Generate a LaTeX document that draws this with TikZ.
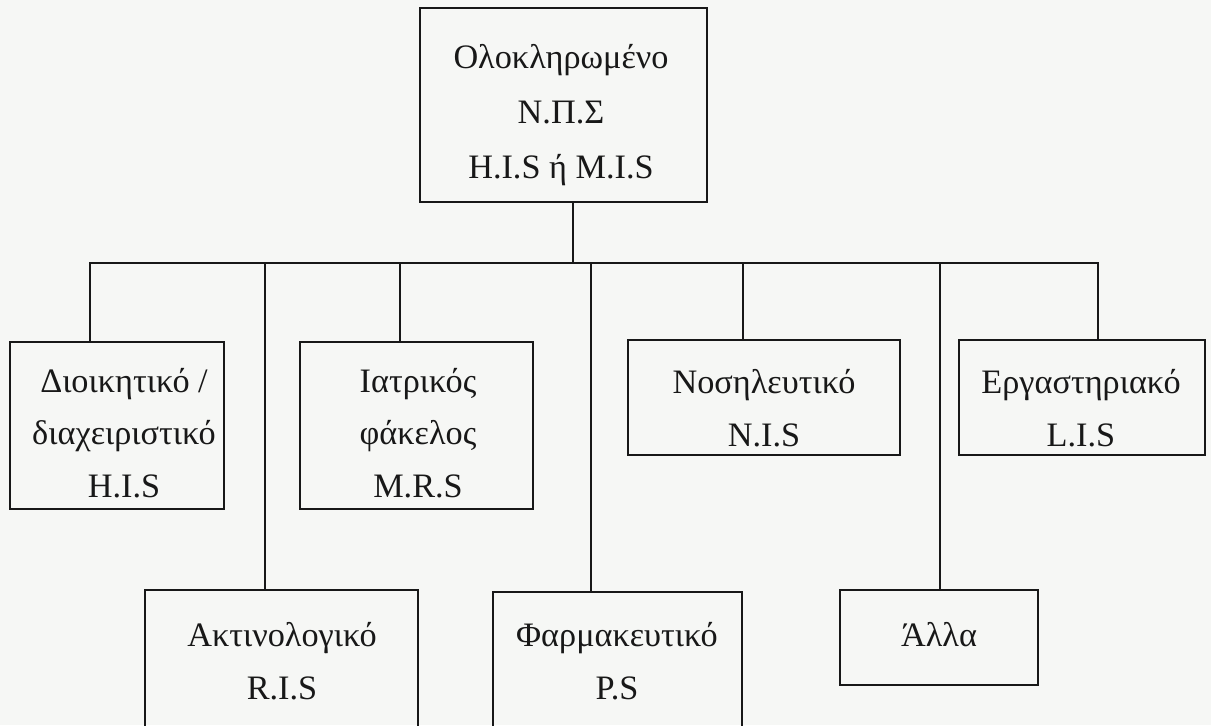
\documentclass[tikz,border=0pt]{standalone}
\usepackage{fontspec}
\setmainfont{Liberation Serif}
\definecolor{ink}{HTML}{181818}
\definecolor{paper}{HTML}{F6F7F5}
\newcommand\pxu{0.02cm}
\begin{document}
\begin{tikzpicture}[x=0.02cm,y=-0.02cm,
  box/.style={draw=ink, line width=1.6pt, inner sep=0pt, outer sep=0pt},
  lbl/.style={text=ink, align=center, inner sep=0pt,
    font=\fontsize{19.5}{29.9}\selectfont},
  toplbl/.style={lbl, font=\fontsize{19.5}{31.3}\selectfont},
  link/.style={draw=ink, line width=1.5pt, line cap=rect}]
\useasboundingbox (0,0) rectangle (1211,725);
\fill[paper] (0,0) rectangle (1211,725);
\clip (0,0) rectangle (1211,725);

% boxes
\node[box, minimum width=287*\pxu, minimum height=194*\pxu] (top)   at (563.5,105)   {};
\node[box, minimum width=214*\pxu, minimum height=167*\pxu] (diik)  at (117,425.5)   {};
\node[box, minimum width=233*\pxu, minimum height=167*\pxu] (iatr)  at (416.5,425.5) {};
\node[box, minimum width=272*\pxu, minimum height=115*\pxu] (nosi)  at (764,397.5)   {};
\node[box, minimum width=246*\pxu, minimum height=115*\pxu] (erga)  at (1082,397.5)  {};
\node[box, minimum width=273*\pxu, minimum height=160*\pxu] (aktin) at (281.5,670)   {};
\node[box, minimum width=249*\pxu, minimum height=158*\pxu] (farm)  at (617.5,671)   {};
\node[box, minimum width=198*\pxu, minimum height=95*\pxu]  (alla)  at (939,637.5)   {};

% labels
\node[toplbl] (topt)   at (561,115) {Ολοκληρωμένο\\Ν.Π.Σ\\H.I.S ή M.I.S};
\node[lbl]    (diikt)  at (124,433) {Διοικητικό /\\διαχειριστικό\\H.I.S};
\node[lbl]    (iatrt)  at (418,433) {Ιατρικός\\φάκελος\\M.R.S};
\node[lbl]    (nosit)  at (764,408) {Νοσηλευτικό\\N.I.S};
\node[lbl]    (ergat)  at (1081,408) {Εργαστηριακό\\L.I.S};
\node[lbl]    (aktint) at (282,661) {Ακτινολογικό\\R.I.S};
\node[lbl]    (farmt)  at (617,661) {Φαρμακευτικό\\P.S};
\node[lbl]    (allat)  at (939,635) {Άλλα};

% junctions on the distribution bar
\coordinate (j0) at (573,263);
\coordinate (b1) at (90,263);
\coordinate (b2) at (265,263);
\coordinate (b3) at (400,263);
\coordinate (b4) at (591,263);
\coordinate (b5) at (743,263);
\coordinate (b6) at (940,263);
\coordinate (b7) at (1098,263);

% connectors
\draw[link] (top.south -| j0) -- (j0);
\draw[link] (b1) -- (b7);
\draw[link] (b1) -- (b1 |- diik.north);
\draw[link] (b2) -- (b2 |- aktin.north);
\draw[link] (b3) -- (b3 |- iatr.north);
\draw[link] (b4) -- (b4 |- farm.north);
\draw[link] (b5) -- (b5 |- nosi.north);
\draw[link] (b6) -- (b6 |- alla.north);
\draw[link] (b7) -- (b7 |- erga.north);
\end{tikzpicture}
\end{document}
